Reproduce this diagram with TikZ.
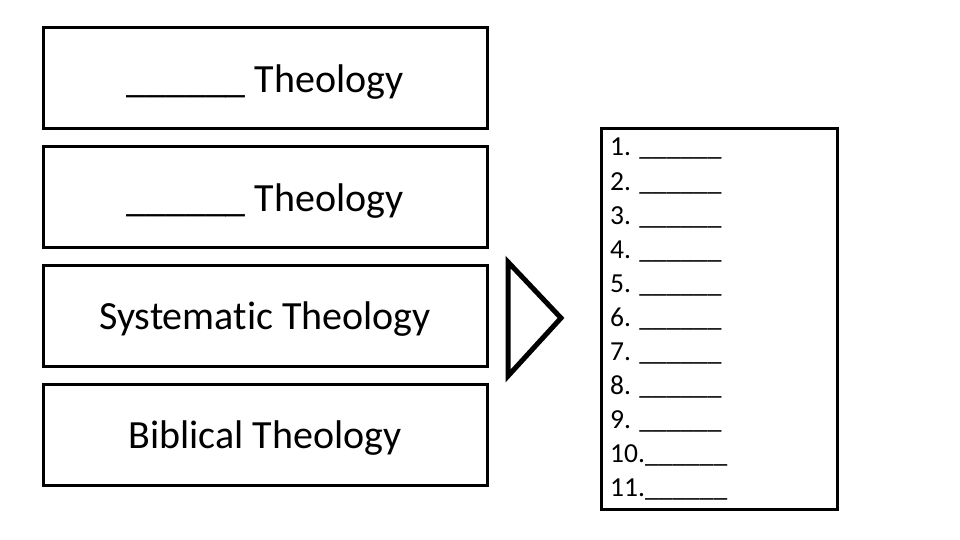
\documentclass[tikz,border=0pt]{standalone}
\usepackage{fontspec}
\setmainfont[Ligatures=NoCommon]{Carlito}
\newcommand\lowtxt[1]{\raisebox{-4pt}[\height][\depth]{#1}}
\begin{document}
\begin{tikzpicture}[x=1pt,y=-1pt,
  topicbox/.style={draw=black,line width=3pt,minimum width=444pt,minimum height=101pt,inner sep=0pt,font=\fontsize{40}{48}\selectfont},
  listframe/.style={draw=black,line width=3pt,minimum width=236pt,minimum height=380pt,inner sep=0pt},
  listtext/.style={align=left,inner sep=0pt,font=\fontsize{27.5}{34.1}\selectfont},
  arrowtri/.style={draw=black,line width=5pt,line join=miter}]
\useasboundingbox (0,0) rectangle (960,540);
\node[topicbox] (b1) at (265,78) {\lowtxt{\_\_\_\_\_\_ Theology}};
\node[topicbox] (b2) at (265,197) {\lowtxt{\_\_\_\_\_\_ Theology}};
\node[topicbox] (b3) at (265,315.5) {\lowtxt{Systematic Theology}};
\node[topicbox] (b4) at (265,434.5) {\lowtxt{Biblical Theology}};
\coordinate (t1) at (508,262);
\coordinate (t2) at (561,318);
\coordinate (t3) at (508,376);
\draw[arrowtri] (t1) -- (t2) -- (t3) -- cycle;
\node[listframe] (lf) at (719,319) {};
\node[listtext,anchor=north west] (lt) at (610,138) {1. \_\_\_\_\_\_\\2. \_\_\_\_\_\_\\3. \_\_\_\_\_\_\\4. \_\_\_\_\_\_\\5. \_\_\_\_\_\_\\6. \_\_\_\_\_\_\\7. \_\_\_\_\_\_\\8. \_\_\_\_\_\_\\9. \_\_\_\_\_\_\\10.\_\_\_\_\_\_\\11.\_\_\_\_\_\_};
\end{tikzpicture}
\end{document}
